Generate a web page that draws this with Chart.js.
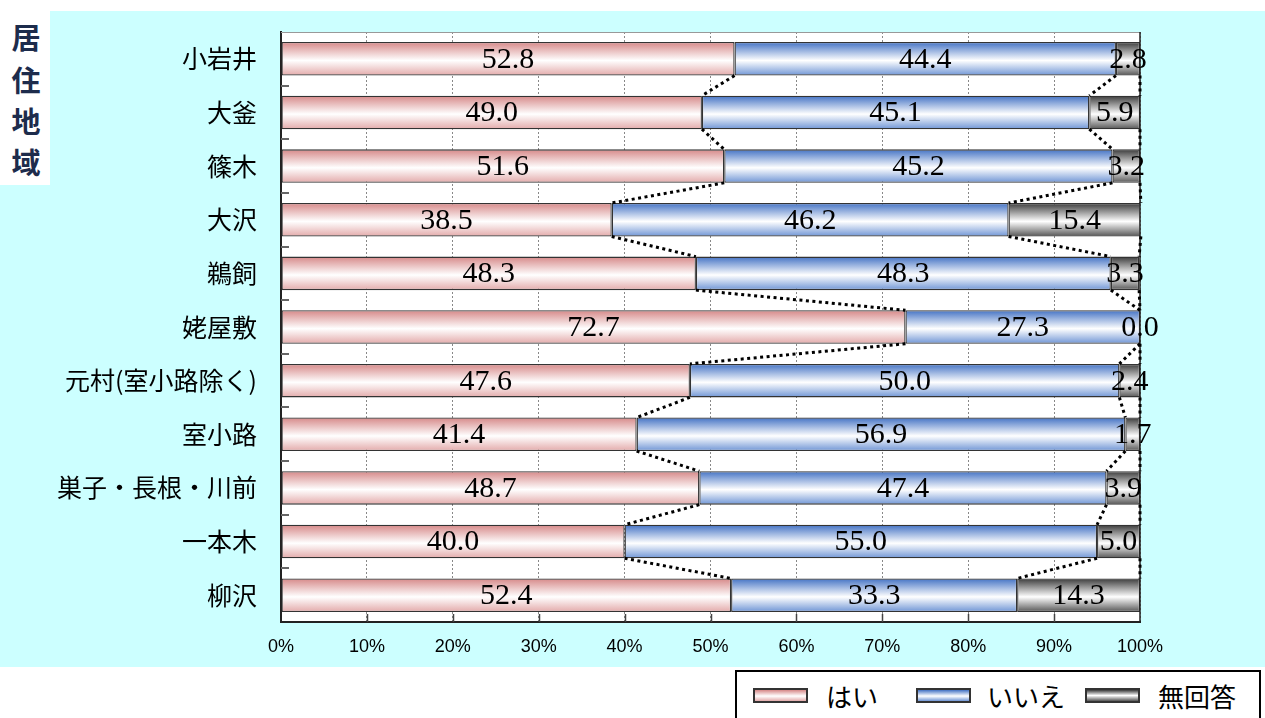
<!DOCTYPE html>
<html lang="ja">
<head>
<meta charset="utf-8">
<title>居住地域</title>
<script src="https://cdn.jsdelivr.net/npm/chart.js@4/dist/chart.umd.min.js"></script>
<style>
  body { margin: 0; width: 1265px; height: 718px; overflow: hidden; background: #fff; position: relative;
         font-family: "Noto Sans CJK JP", sans-serif; }
  #bg { position: absolute; left: 0; top: 11px; width: 1265px; height: 656px; background: #ccffff; }
  #side { position: absolute; left: 0; top: 0; width: 50px; height: 185px; background: #fff; }
  #side span { position: absolute; left: 0; width: 52px; text-align: center; font-weight: bold;
               font-size: 29px; line-height: 30px; color: #1d2c4c; }
  #wrap { position: absolute; left: 0; top: 0; width: 1265px; height: 718px; }
  #legend { position: absolute; left: 735px; top: 670px; width: 526px; height: 60px;
            border: 2px solid #000; background: #fff; box-sizing: border-box; }
  .sw { position: absolute; top: 688px; width: 55px; height: 15px; box-sizing: border-box;
        border: 2px solid #333; }
  .lt { position: absolute; top: 678px; font-size: 26px; line-height: 36px; color: #000; }
</style>
</head>
<body>
<div id="bg"></div>
<div id="side">
  <span style="top:21px">居</span>
  <span style="top:64px">住</span>
  <span style="top:105px">地</span>
  <span style="top:146px">域</span>
</div>
<div id="wrap"><canvas id="chart" width="1265" height="718"></canvas></div>
<div id="legend"></div>
<div class="sw" style="left:753px;background:linear-gradient(to bottom,#d68888,#fff 55%,#e3aaaa)"></div>
<div class="lt" style="left:826px">はい</div>
<div class="sw" style="left:916px;background:linear-gradient(to bottom,#4372c4,#fff 55%,#6f95d5)"></div>
<div class="lt" style="left:987px">いいえ</div>
<div class="sw" style="left:1085px;background:linear-gradient(to bottom,#3a3a3a,#fff 50%,#555)"></div>
<div class="lt" style="left:1158px">無回答</div>

<script>
/* ---------- DATA ---------- */
const categories = [
  "小岩井", "大釜", "篠木", "大沢", "鵜飼", "姥屋敷",
  "元村(室小路除く)", "室小路", "巣子・長根・川前", "一本木", "柳沢"
];
const seriesNames = ["はい", "いいえ", "無回答"];
const yesValues      = [52.8, 49.0, 51.6, 38.5, 48.3, 72.7, 47.6, 41.4, 48.7, 40.0, 52.4];
const noValues       = [44.4, 45.1, 45.2, 46.2, 48.3, 27.3, 50.0, 56.9, 47.4, 55.0, 33.3];
const noAnswerValues = [ 2.8,  5.9,  3.2, 15.4,  3.3,  0.0,  2.4,  1.7,  3.9,  5.0, 14.3];
const xTickValues = [0, 10, 20, 30, 40, 50, 60, 70, 80, 90, 100];

/* ---------- STYLE ---------- */
const BAR_PCT = 0.625;
const gradients = [
  ["#d68888", "#ffffff", "#e3aaaa"],
  ["#4372c4", "#ffffff", "#6f95d5"],
  ["#3a3a3a", "#ffffff", "#555555"]
];

function barGradient(stops) {
  return function (c) {
    const chart = c.chart;
    const y = chart.scales.y;
    if (!y || c.type !== "data" || !(y.bottom > y.top)) return stops[0];
    const band = (y.bottom - y.top) / categories.length;
    const center = y.getPixelForValue(c.dataIndex);
    const half = band * BAR_PCT / 2;
    const g = chart.ctx.createLinearGradient(0, center - half, 0, center + half);
    g.addColorStop(0, stops[0]);
    g.addColorStop(0.55, stops[1]);
    g.addColorStop(1, stops[2]);
    return g;
  };
}

/* ---------- DECORATION PLUGIN ---------- */
const decor = {
  id: "decor",
  beforeDraw(chart) {
    const a = chart.chartArea;
    const ctx = chart.ctx;
    ctx.save();
    ctx.fillStyle = "#ffffff";
    ctx.fillRect(a.left, a.top, a.right - a.left, a.bottom - a.top);
    ctx.restore();
  },
  afterDatasetsDraw(chart) {
    const ctx = chart.ctx;
    const a = chart.chartArea;
    const xs = chart.scales.x;
    const ys = chart.scales.y;
    const band = (ys.bottom - ys.top) / categories.length;
    ctx.save();

    // frame: top and right
    ctx.strokeStyle = "#999";
    ctx.lineWidth = 1;
    ctx.beginPath();
    ctx.moveTo(a.left, a.top + 0.5);
    ctx.lineTo(a.right, a.top + 0.5);
    ctx.stroke();
    ctx.strokeStyle = "#222";
    ctx.lineWidth = 1.5;
    ctx.beginPath();
    ctx.moveTo(a.right, a.top);
    ctx.lineTo(a.right, a.bottom);
    ctx.stroke();

    // inward ticks
    ctx.strokeStyle = "#444";
    ctx.lineWidth = 1.5;
    xTickValues.slice(1, -1).forEach(v => {
      const px = Math.round(xs.getPixelForValue(v)) + 0.5;
      ctx.beginPath();
      ctx.moveTo(px, a.bottom - 8);
      ctx.lineTo(px, a.bottom);
      ctx.stroke();
    });
    ctx.strokeStyle = "#666";
    ctx.lineWidth = 2;
    for (let j = 1; j < categories.length; j++) {
      const py = Math.round(ys.top + band * j);
      ctx.beginPath();
      ctx.moveTo(a.left, py);
      ctx.lineTo(a.left + 8, py);
      ctx.stroke();
    }

    // dotted connectors between adjacent bars
    ctx.strokeStyle = "#000";
    ctx.lineWidth = 3;
    ctx.setLineDash([3, 3.5]);
    for (let d = 0; d < 3; d++) {
      const els = chart.getDatasetMeta(d).data;
      for (let i = 0; i < els.length - 1; i++) {
        const e1 = els[i], e2 = els[i + 1];
        ctx.beginPath();
        ctx.moveTo(e1.x, e1.y + e1.height / 2);
        ctx.lineTo(e2.x, e2.y - e2.height / 2);
        ctx.stroke();
      }
    }
    ctx.setLineDash([]);

    // value labels
    ctx.fillStyle = "#000";
    ctx.font = "30px 'Liberation Serif', serif";
    ctx.textAlign = "center";
    ctx.textBaseline = "middle";
    chart.data.datasets.forEach((ds, d) => {
      chart.getDatasetMeta(d).data.forEach((el, i) => {
        ctx.fillText(ds.data[i].toFixed(1), (el.x + el.base) / 2, el.y + 1);
      });
    });
    ctx.restore();
  }
};

/* ---------- CHART ---------- */
const valueSets = [yesValues, noValues, noAnswerValues];

new Chart(document.getElementById("chart").getContext("2d"), {
  type: "bar",
  data: {
    labels: categories,
    datasets: valueSets.map((vals, k) => ({
      label: seriesNames[k],
      data: vals,
      backgroundColor: barGradient(gradients[k]),
      borderColor: "#333",
      borderWidth: 1.3,
      borderSkipped: false,
      barPercentage: BAR_PCT,
      categoryPercentage: 1
    }))
  },
  options: {
    indexAxis: "y",
    responsive: false,
    animation: false,
    layout: { padding: { top: 32, right: 125, bottom: 0, left: 0 } },
    plugins: {
      legend: { display: false },
      tooltip: { enabled: false }
    },
    scales: {
      x: {
        stacked: true,
        min: 0,
        max: 100,
        afterFit: s => { s.height = 96; s.paddingLeft = 0; s.paddingRight = 0; },
        afterBuildTicks: s => { s.ticks = xTickValues.map(v => ({ value: v })); },
        ticks: {
          autoSkip: false,
          maxRotation: 0,
          padding: 14,
          color: "#000",
          font: { family: "'Liberation Sans', sans-serif", size: 18 },
          callback: v => v + "%"
        },
        grid: { color: "#888", lineWidth: 1, drawTicks: false },
        border: { display: true, color: "#222", width: 2, dash: [2, 2] }
      },
      y: {
        stacked: true,
        afterFit: s => { s.width = 281; s.paddingTop = 0; s.paddingBottom = 0; },
        ticks: {
          padding: 24,
          color: "#000",
          font: { family: "'Noto Sans CJK JP', sans-serif", size: 25 }
        },
        grid: { display: false, drawTicks: false },
        border: { display: true, color: "#222", width: 2 }
      }
    }
  },
  plugins: [decor]
});
</script>
</body>
</html>
